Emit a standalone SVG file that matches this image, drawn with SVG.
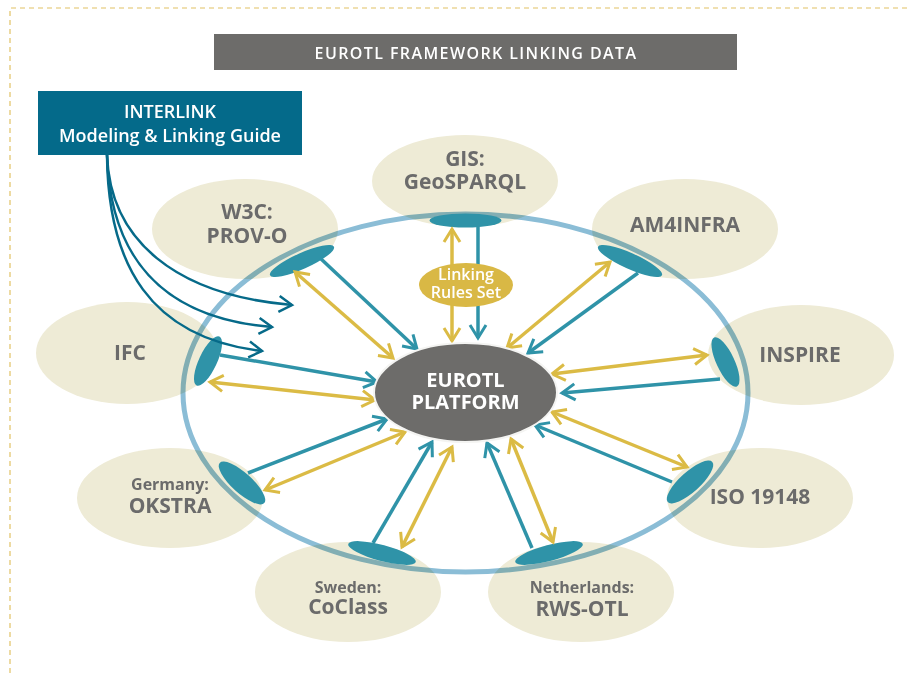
<svg xmlns="http://www.w3.org/2000/svg" width="909" height="673" viewBox="0 0 909 673">
<style>
.bg{fill:#eeebd6}
.lbl{font-family:"Open Sans","Liberation Sans",sans-serif;font-weight:700;fill:#6b6b6b;text-anchor:middle}
.big{font-size:21px}
.small{font-size:16px}
.con{fill:#2f93a8}
.t{stroke:#2f93a8;stroke-width:3.5;fill:none}
.g{stroke:#dbbb45;stroke-width:3.5;fill:none}
.d{stroke:#066a89;stroke-width:2.5;fill:none}
.wt{font-family:"Open Sans","Liberation Sans",sans-serif;fill:#ffffff;text-anchor:middle}
</style>
<defs>
<marker id="at" viewBox="-16 -10 20 20" refX="0" refY="0" markerWidth="20" markerHeight="20" markerUnits="userSpaceOnUse" orient="auto-start-reverse">
<path d="M-13,-8 L0,0 L-13,8" fill="none" stroke="#2f93a8" stroke-width="3"/>
</marker>
<marker id="ag" viewBox="-16 -10 20 20" refX="0" refY="0" markerWidth="20" markerHeight="20" markerUnits="userSpaceOnUse" orient="auto-start-reverse">
<path d="M-13,-8 L0,0 L-13,8" fill="none" stroke="#dbbb45" stroke-width="3"/>
</marker>
<marker id="ad" viewBox="-16 -10 20 20" refX="0" refY="0" markerWidth="20" markerHeight="20" markerUnits="userSpaceOnUse" orient="auto">
<path d="M-13,-8 L0,0 L-13,8" fill="none" stroke="#066a89" stroke-width="2.5"/>
</marker>
</defs>
<rect width="909" height="673" fill="#ffffff"/>
<path d="M10,673 V8 H909" fill="none" stroke="#e2c265" stroke-width="1.2" stroke-dasharray="5 4"/>

<g id="title">
<rect x="214" y="34" width="523" height="36" fill="#6d6c6a"/>
<text class="wt" x="476" y="59" font-size="16" font-weight="600" letter-spacing="1.4">EUROTL FRAMEWORK LINKING DATA</text>
</g>

<g id="node-gis"><ellipse class="bg" cx="465" cy="181" rx="93" ry="46"/><text class="lbl big" x="465" y="166">GIS:</text><text class="lbl big" x="465" y="189">GeoSPARQL</text></g>
<g id="node-w3c"><ellipse class="bg" cx="245" cy="229" rx="93" ry="50"/><text class="lbl big" x="247" y="219">W3C:</text><text class="lbl big" x="247" y="243">PROV-O</text></g>
<g id="node-ifc"><ellipse class="bg" cx="127" cy="353" rx="91" ry="51"/><text class="lbl big" x="130" y="360">IFC</text></g>
<g id="node-am4infra"><ellipse class="bg" cx="685" cy="229" rx="93" ry="50"/><text class="lbl big" x="685" y="232">AM4INFRA</text></g>
<g id="node-inspire"><ellipse class="bg" cx="801" cy="355" rx="93" ry="50"/><text class="lbl big" x="800" y="362">INSPIRE</text></g>
<g id="node-iso"><ellipse class="bg" cx="760" cy="498" rx="93" ry="50"/><text class="lbl big" x="760" y="504">ISO 19148</text></g>
<g id="node-netherlands"><ellipse class="bg" cx="581" cy="592" rx="93" ry="50"/><text class="lbl small" x="582" y="593">Netherlands:</text><text class="lbl big" x="582" y="616">RWS-OTL</text></g>
<g id="node-sweden"><ellipse class="bg" cx="348" cy="592" rx="93" ry="50"/><text class="lbl small" x="348" y="593">Sweden:</text><text class="lbl big" x="348" y="614">CoClass</text></g>
<g id="node-germany"><ellipse class="bg" cx="170" cy="498" rx="93" ry="50"/><text class="lbl small" x="170" y="490">Germany:</text><text class="lbl big" x="170" y="513">OKSTRA</text></g>

<g id="ring"><ellipse cx="465.5" cy="393" rx="282.5" ry="179" fill="none" stroke="#8bbdd6" stroke-width="5" style="mix-blend-mode:multiply"/></g>

<g id="connector-ends">
<ellipse class="con" cx="465.5" cy="220.5" rx="36" ry="7"/>
<ellipse class="con" cx="302" cy="261" rx="35" ry="8" transform="rotate(-24 302 261)"/>
<ellipse class="con" cx="630" cy="261" rx="35" ry="8" transform="rotate(24 630 261)"/>
<ellipse class="con" cx="208" cy="361" rx="27" ry="9" transform="rotate(-65 208 361)"/>
<ellipse class="con" cx="725.5" cy="362" rx="27" ry="9" transform="rotate(65 725.5 362)"/>
<ellipse class="con" cx="242" cy="483" rx="30" ry="10" transform="rotate(42 242 483)"/>
<ellipse class="con" cx="690" cy="482" rx="30" ry="10" transform="rotate(-42 690 482)"/>
<ellipse class="con" cx="382" cy="553" rx="35" ry="8" transform="rotate(15 382 553)"/>
<ellipse class="con" cx="549" cy="553" rx="35" ry="8" transform="rotate(-15 549 553)"/>
</g>

<g id="connectors">
<line class="t" x1="478" y1="227" x2="478" y2="338" marker-end="url(#at)"/>
<line class="g" x1="452" y1="229" x2="452" y2="341" marker-start="url(#ag)" marker-end="url(#ag)"/>
<line class="t" x1="320" y1="258" x2="417" y2="349" marker-end="url(#at)"/>
<line class="g" x1="295" y1="272" x2="393" y2="358" marker-start="url(#ag)" marker-end="url(#ag)"/>
<line class="t" x1="638" y1="273" x2="528" y2="353" marker-end="url(#at)"/>
<line class="g" x1="610" y1="262" x2="507" y2="348" marker-start="url(#ag)" marker-end="url(#ag)"/>
<line class="t" x1="220" y1="355" x2="377" y2="382" marker-end="url(#at)"/>
<line class="g" x1="210" y1="382" x2="375" y2="400" marker-start="url(#ag)" marker-end="url(#ag)"/>
<line class="g" x1="707" y1="355" x2="552" y2="374" marker-start="url(#ag)" marker-end="url(#ag)"/>
<line class="t" x1="720" y1="379" x2="562" y2="393" marker-end="url(#at)"/>
<line class="t" x1="248" y1="473" x2="387" y2="419" marker-end="url(#at)"/>
<line class="g" x1="265" y1="490" x2="405" y2="432" marker-start="url(#ag)" marker-end="url(#ag)"/>
<line class="t" x1="672" y1="482" x2="535" y2="425" marker-end="url(#at)"/>
<line class="g" x1="552" y1="412" x2="687" y2="467" marker-start="url(#ag)" marker-end="url(#ag)"/>
<line class="t" x1="373" y1="543" x2="432" y2="442" marker-end="url(#at)"/>
<line class="g" x1="402" y1="547" x2="452" y2="447" marker-start="url(#ag)" marker-end="url(#ag)"/>
<line class="t" x1="532" y1="548" x2="487" y2="443" marker-end="url(#at)"/>
<line class="g" x1="511" y1="439" x2="553" y2="542" marker-start="url(#ag)" marker-end="url(#ag)"/>
<path class="d" d="M107,155 C110,240 175,295 292,305" marker-end="url(#ad)"/>
<path class="d" d="M107,155 C110,255 160,318 272,327" marker-end="url(#ad)"/>
<path class="d" d="M107,155 C108,265 150,338 262,351" marker-end="url(#ad)"/>
</g>

<g id="node-linking-rules">
<ellipse cx="466" cy="285" rx="47" ry="22" fill="#d9b845"/>
<text class="wt" x="466" y="280" font-size="16" font-weight="600">Linking</text>
<text class="wt" x="466" y="298" font-size="16" font-weight="600">Rules Set</text>
</g>

<g id="node-eurotl">
<ellipse cx="465.5" cy="392.5" rx="91.5" ry="49.5" fill="#6d6c6a" stroke="#f4f4f2" stroke-width="2"/>
<text class="wt" x="465.5" y="387" font-size="20" font-weight="700">EUROTL</text>
<text class="wt" x="465.5" y="409" font-size="20" font-weight="700">PLATFORM</text>
</g>

<g id="node-interlink">
<rect x="38" y="91" width="264" height="64" fill="#046a8a"/>
<text class="wt" x="170" y="118" font-size="18" font-weight="600">INTERLINK</text>
<text class="wt" x="170" y="142" font-size="18" font-weight="600">Modeling &amp; Linking Guide</text>
</g>
</svg>
